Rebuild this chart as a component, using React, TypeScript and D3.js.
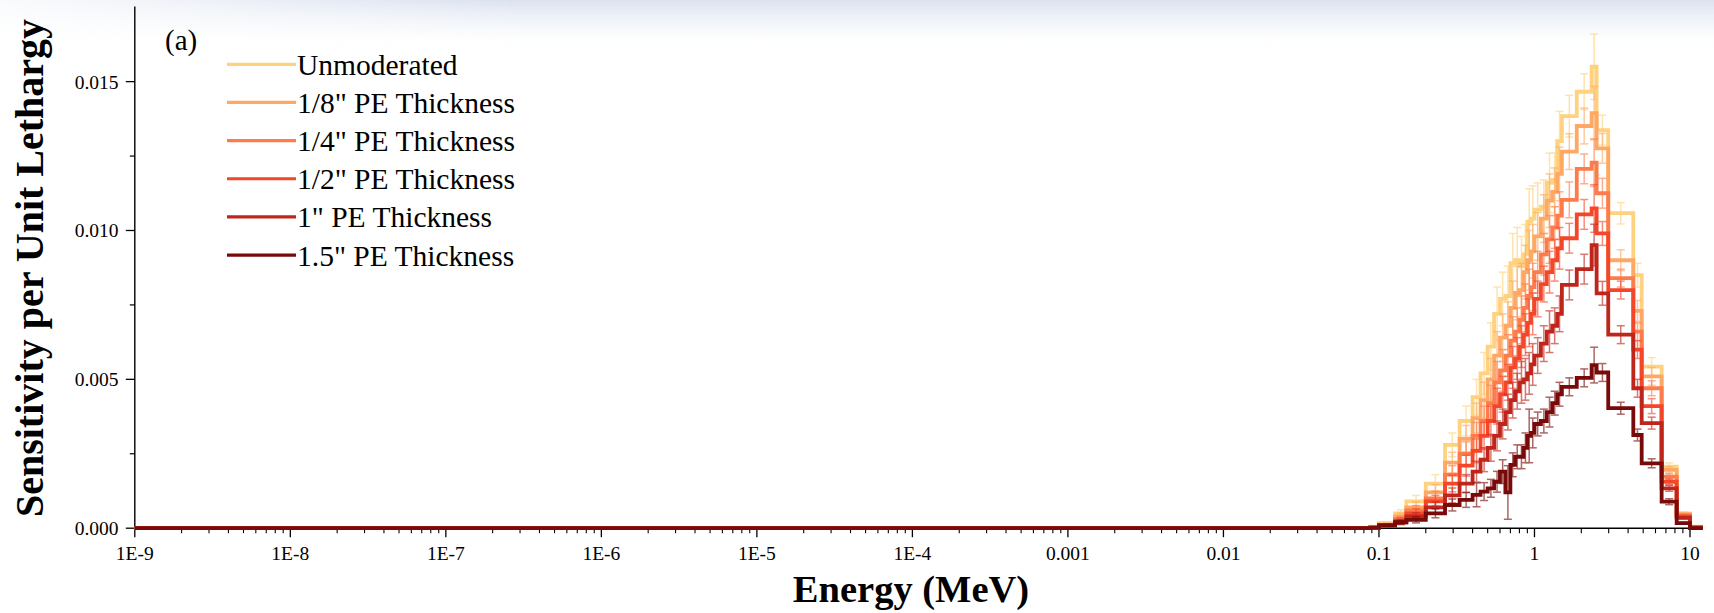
import React, { useEffect } from 'react';
import * as d3 from 'd3';

// Energy bin edges (MeV); each series holds one value per bin.
const binEdges = [
  1e-9, 0.088, 0.1, 0.127, 0.15, 0.2, 0.266, 0.33, 0.4, 0.45, 0.5, 0.55, 0.6, 0.65, 0.7,
  0.75, 0.8, 0.85, 0.9, 0.95, 1.0, 1.1, 1.2, 1.3, 1.4, 1.5, 1.87, 2.33, 2.51, 2.98, 4.32,
  4.89, 6.57, 8.21, 10, 12.1,
];

const unmoderated = [
  0, 0.00005, 0.00017, 0.0005, 0.0009, 0.0015, 0.0028, 0.0036, 0.0044, 0.0052, 0.0061,
  0.0072, 0.0077, 0.0078, 0.0089, 0.009, 0.0088, 0.0092, 0.0103, 0.0104, 0.0107, 0.0108,
  0.0116, 0.0117, 0.013, 0.01384, 0.01466, 0.0155, 0.01337, 0.01058, 0.0085, 0.00543,
  0.00207, 0.0005, 0.00005,
];
const pe18 = [
  0, 0.00004, 0.00012, 0.0004, 0.0007, 0.0012, 0.0022, 0.003, 0.0037, 0.0043, 0.005,
  0.0058, 0.0064, 0.0068, 0.0074, 0.0079, 0.008, 0.0086, 0.009, 0.0093, 0.0098, 0.0104,
  0.011, 0.0113, 0.0119, 0.01265, 0.01351, 0.01394, 0.01276, 0.009, 0.0073, 0.0051,
  0.00196, 0.00047, 0.00004,
];
const pe14 = [
  0, 0.00003, 0.0001, 0.0003, 0.0006, 0.001, 0.0018, 0.0025, 0.0031, 0.0036, 0.0042,
  0.0049, 0.0053, 0.0058, 0.0063, 0.0066, 0.007, 0.0074, 0.0078, 0.0081, 0.0086, 0.0092,
  0.0097, 0.0101, 0.0105, 0.01103, 0.01207, 0.01228, 0.01125, 0.0084, 0.0066, 0.0047,
  0.00173, 0.00043, 0.00003,
];
const pe12 = [
  0, 0.00003, 0.0001, 0.00025, 0.0005, 0.0009, 0.0015, 0.0021, 0.0026, 0.0031, 0.0036,
  0.0041, 0.0045, 0.0049, 0.0054, 0.0057, 0.0061, 0.0065, 0.0069, 0.0072, 0.0077, 0.0082,
  0.0086, 0.009, 0.0094, 0.00974, 0.01054, 0.01074, 0.0099, 0.008, 0.006, 0.0041,
  0.00156, 0.0004, 0.00003,
];
const pe1 = [
  0, 0.00002, 0.00008, 0.0002, 0.0004, 0.0007, 0.0011, 0.0015, 0.0019, 0.0023, 0.0027,
  0.0031, 0.0035, 0.0039, 0.0043, 0.0046, 0.0049, 0.005, 0.0052, 0.0055, 0.0058, 0.0062,
  0.0066, 0.0068, 0.0072, 0.00817, 0.0087, 0.00951, 0.00789, 0.0065, 0.0047, 0.00353,
  0.00134, 0.00035, 0.00002,
];
const pe15 = [
  0, 0.00001, 0.0001, 0.0002, 0.00028, 0.0005, 0.00078, 0.00095, 0.00112, 0.00123, 0.00134,
  0.00156, 0.0019, 0.0012, 0.00213, 0.0024, 0.0024, 0.0027, 0.0031, 0.0032, 0.0035, 0.0036,
  0.0039, 0.0042, 0.0045, 0.00475, 0.00505, 0.00548, 0.00523, 0.00403, 0.00313, 0.00218,
  0.00089, 0.00017, 0,
];

// One-sigma uncertainties per bin
const errUnmoderated = [
  0, 0, 0.00005, 0.00012, 0.0002, 0.0003, 0.0004, 0.0005, 0.0006, 0.0007, 0.0008, 0.0009,
  0.0009, 0.001, 0.001, 0.0011, 0.001, 0.001, 0.0011, 0.0011, 0.0009, 0.0009, 0.001,
  0.0009, 0.001, 0.0007, 0.0006, 0.0011, 0.0005, 0.00036, 0.0004, 0.0003, 0.00012, 0.00005, 0,
];
const errPe18 = [
  0, 0, 0.00004, 0.0001, 0.00018, 0.00026, 0.00035, 0.00045, 0.0005, 0.0006, 0.0007, 0.0008,
  0.0008, 0.0008, 0.0009, 0.0009, 0.0009, 0.0009, 0.001, 0.0009, 0.0008, 0.0008, 0.0009,
  0.0008, 0.0009, 0.0006, 0.0006, 0.0009, 0.0005, 0.00035, 0.00035, 0.0003, 0.0001, 0.00004, 0,
];
const errPe14 = [
  0, 0, 0.00004, 0.0001, 0.00016, 0.00024, 0.0003, 0.0004, 0.00045, 0.0005, 0.0006, 0.0007,
  0.0007, 0.0007, 0.0008, 0.0008, 0.0008, 0.0008, 0.0009, 0.0008, 0.0007, 0.0007, 0.0008,
  0.0007, 0.0008, 0.0006, 0.0005, 0.0008, 0.0005, 0.0003, 0.0003, 0.00025, 0.0001, 0.00004, 0,
];
const errPe12 = [
  0, 0, 0.00004, 0.0001, 0.00015, 0.0002, 0.00028, 0.00035, 0.0004, 0.00045, 0.0005, 0.0006,
  0.0006, 0.0006, 0.0007, 0.0007, 0.0007, 0.0007, 0.0008, 0.0007, 0.0006, 0.0006, 0.0007,
  0.0007, 0.0007, 0.0005, 0.0005, 0.0008, 0.0004, 0.0003, 0.0003, 0.00025, 0.0001, 0.00003, 0,
];
const errPe1 = [
  0, 0, 0.00003, 0.00008, 0.00012, 0.00018, 0.00025, 0.0003, 0.00035, 0.0004, 0.00045, 0.0005,
  0.0005, 0.0006, 0.0006, 0.0006, 0.0007, 0.0007, 0.0007, 0.0007, 0.0006, 0.0006, 0.0007,
  0.0006, 0.0006, 0.0005, 0.0005, 0.0007, 0.0004, 0.0003, 0.0003, 0.0002, 0.0001, 0.00003, 0,
];
const errPe15 = [
  0, 0, 0.00003, 0.00006, 0.0001, 0.00015, 0.0002, 0.00025, 0.0004, 0.0003, 0.0003, 0.00035,
  0.0004, 0.0009, 0.0004, 0.0004, 0.0004, 0.0005, 0.0009, 0.0005, 0.0004, 0.0004, 0.0005,
  0.0004, 0.0004, 0.0003, 0.0003, 0.0006, 0.0003, 0.0002, 0.0002, 0.00015, 0.0001, 0.00003, 0,
];

const seriesNames = [
  'Unmoderated',
  '1/8" PE Thickness',
  '1/4" PE Thickness',
  '1/2" PE Thickness',
  '1" PE Thickness',
  '1.5" PE Thickness',
];
const seriesColors = ['#FED27E', '#FDA965', '#FD7C4C', '#F4472A', '#BE251B', '#780A0A'];
const seriesValues = [unmoderated, pe18, pe14, pe12, pe1, pe15];
const seriesErrors = [errUnmoderated, errPe18, errPe14, errPe12, errPe1, errPe15];

const xTickValues = [1e-9, 1e-8, 1e-7, 1e-6, 1e-5, 1e-4, 1e-3, 1e-2, 1e-1, 1, 10];
const xTickLabels = ['1E-9', '1E-8', '1E-7', '1E-6', '1E-5', '1E-4', '0.001', '0.01', '0.1', '1', '10'];
const yTickValues = [0, 0.005, 0.01, 0.015];
const yTickLabels = ['0.000', '0.005', '0.010', '0.015'];
const yMinorTicks = [0.0025, 0.0075, 0.0125];

const W = 1714;
const H = 613;
const serif = "'Liberation Serif', 'Times New Roman', Times, serif";

export default function App() {
  useEffect(() => {
    document.body.style.margin = '0';
    document.body.style.overflow = 'hidden';
  }, []);

  const x = d3.scaleLog().domain([1e-9, 10]).range([134.8, 1690]);
  const y = d3.scaleLinear().domain([0, 0.0175]).range([528.2, 7.2]);
  const x0 = x(1e-9);
  const y0 = y(0);
  const xAxisEnd = x(10) + 3;

  const stepLine = d3
    .line<[number, number]>()
    .x((d) => x(d[0]))
    .y((d) => y(d[1]))
    .curve(d3.curveStepAfter);

  const minorX: number[] = [];
  for (let e = -9; e < 1; e++) {
    for (let m = 2; m <= 9; m++) minorX.push(m * Math.pow(10, e));
  }

  const legendX1 = 227;
  const legendX2 = 296;
  const legendY0 = 64.3;
  const legendDy = 38.15;

  return (
    <svg
      width={W}
      height={H}
      viewBox={`0 0 ${W} ${H}`}
      style={{ position: 'absolute', left: 0, top: 0, display: 'block', background: '#fff' }}
    >
      <defs>
        <linearGradient id="haze" x1="0" y1="0" x2="0" y2="1">
          <stop offset="0" stopColor="#d9e0ef" stopOpacity={0.95} />
          <stop offset="0.55" stopColor="#eef2f8" stopOpacity={0.6} />
          <stop offset="1" stopColor="#ffffff" stopOpacity={0} />
        </linearGradient>
        <linearGradient id="hazeFade" x1="0" y1="0" x2="1" y2="0">
          <stop offset="0" stopColor="#fff" stopOpacity={0.15} />
          <stop offset="0.3" stopColor="#fff" stopOpacity={1} />
          <stop offset="1" stopColor="#fff" stopOpacity={1} />
        </linearGradient>
        <mask id="hazeMask">
          <rect x={0} y={0} width={W} height={50} fill="url(#hazeFade)" />
        </mask>
      </defs>
      <rect x={0} y={0} width={W} height={H} fill="#fff" />
      <rect x={0} y={0} width={W} height={48} fill="url(#haze)" mask="url(#hazeMask)" />

      {/* axes */}
      <line x1={x0} x2={x0} y1={y0} y2={6.5} stroke="#000" strokeWidth={1.4} />
      <line x1={x0} x2={xAxisEnd} y1={y0} y2={y0} stroke="#000" strokeWidth={1.4} />

      {yTickValues.map((v, i) => (
        <g key={`yt${i}`}>
          <line x1={x0 - 9} x2={x0} y1={y(v)} y2={y(v)} stroke="#000" strokeWidth={1.3} />
          <text
            x={118.5}
            y={y(v) + 7}
            textAnchor="end"
            fontFamily={serif}
            fontSize={19.5}
            fill="#000"
          >
            {yTickLabels[i]}
          </text>
        </g>
      ))}
      {yMinorTicks.map((v, i) => (
        <line key={`ym${i}`} x1={x0 - 5} x2={x0} y1={y(v)} y2={y(v)} stroke="#000" strokeWidth={1.2} />
      ))}

      {xTickValues.map((v, i) => (
        <g key={`xt${i}`}>
          <line x1={x(v)} x2={x(v)} y1={y0} y2={y0 + 9} stroke="#000" strokeWidth={1.3} />
          <text
            x={x(v)}
            y={560}
            textAnchor="middle"
            fontFamily={serif}
            fontSize={19.5}
            fill="#000"
          >
            {xTickLabels[i]}
          </text>
        </g>
      ))}
      {minorX.map((v, i) => (
        <line key={`xm${i}`} x1={x(v)} x2={x(v)} y1={y0} y2={y0 + 5} stroke="#000" strokeWidth={1.1} />
      ))}

      {/* step histograms with error bars */}
      {seriesValues.map((vals, s) => {
        const pts: [number, number][] = vals.map((v, i) => [binEdges[i], v]);
        pts.push([binEdges[binEdges.length - 1], vals[vals.length - 1]]);
        const errs = seriesErrors[s];
        return (
          <g key={`s${s}`}>
            <path
              d={stepLine(pts) || ''}
              fill="none"
              stroke={seriesColors[s]}
              strokeWidth={3.8}
              strokeLinejoin="miter"
            />
            <g stroke={seriesColors[s]} strokeWidth={1.5} opacity={0.62}>
              {vals.map((v, i) => {
                const e = errs[i];
                if (!e) return null;
                const cx = x(Math.sqrt(binEdges[i] * binEdges[i + 1]));
                const yt = y(v + e);
                const yb = y(Math.max(0, v - e));
                return (
                  <g key={`e${i}`}>
                    <line x1={cx} x2={cx} y1={yt} y2={yb} />
                    <line x1={cx - 4} x2={cx + 4} y1={yt} y2={yt} />
                    <line x1={cx - 4} x2={cx + 4} y1={yb} y2={yb} />
                  </g>
                );
              })}
            </g>
          </g>
        );
      })}

      {/* panel label */}
      <text x={165} y={49.5} fontFamily={serif} fontSize={29} fill="#000">
        (a)
      </text>

      {/* legend */}
      {seriesNames.map((name, i) => {
        const ly = legendY0 + i * legendDy;
        return (
          <g key={`lg${i}`}>
            <line x1={legendX1} x2={legendX2} y1={ly} y2={ly} stroke={seriesColors[i]} strokeWidth={3.2} />
            <text x={legendX2 + 1} y={ly + 10.5} fontFamily={serif} fontSize={29.5} fill="#000">
              {name}
            </text>
          </g>
        );
      })}

      {/* axis titles */}
      <text
        x={911}
        y={602}
        textAnchor="middle"
        fontFamily={serif}
        fontWeight="bold"
        fontSize={38.5}
        fill="#000"
      >
        Energy (MeV)
      </text>
      <text
        transform={`translate(43, 268) rotate(-90)`}
        textAnchor="middle"
        fontFamily={serif}
        fontWeight="bold"
        fontSize={40}
        fill="#000"
      >
        Sensitivity per Unit Lethargy
      </text>
    </svg>
  );
}
